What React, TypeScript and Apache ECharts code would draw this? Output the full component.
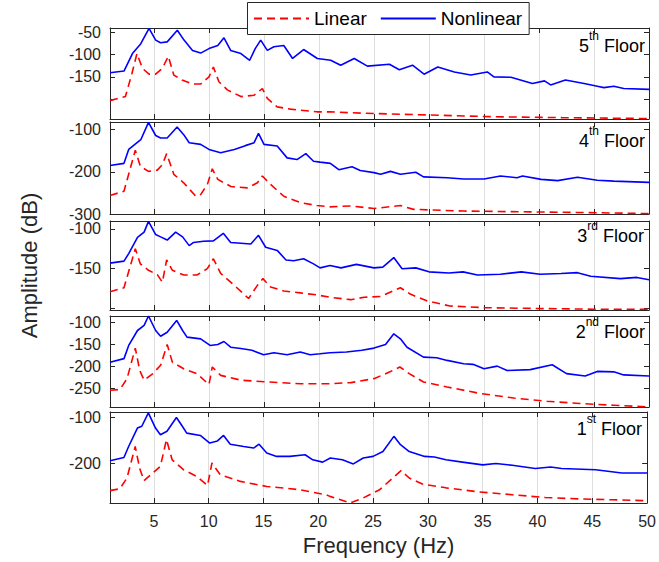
import React, { useEffect, useRef } from "react";
import * as echarts from "echarts";

// ---------- data (frequency Hz, amplitude dB) ----------
const xTicks = [5, 10, 15, 20, 25, 30, 35, 40, 45, 50];
const floorNumbers = ["5", "4", "3", "2", "1"];
const floorSuffixes = ["th", "th", "rd", "nd", "st"];
const seriesNames = ["Linear", "Nonlinear"];

const yMins = [-244, -300, -202, -293, -287];
const yMaxs = [-41, -82, -90, -86, -89];
const yTickValues = [
  [-50, -100, -150, -200],
  [-100, -200, -300],
  [-100, -150, -200],
  [-100, -150, -200, -250],
  [-100, -200],
];
const yLabelValues = [
  [-50, -100, -150],
  [-100, -200, -300],
  [-100, -150],
  [-100, -150, -200, -250],
  [-100, -200],
];

const nonlinear5 = [
  [1.0, -141], [2.27, -137], [3.04, -98], [3.8, -76], [4.55, -42], [5.15, -68], [5.6, -74], [6.2, -72],
  [7.12, -46], [7.73, -68], [8.5, -91], [9.24, -97], [10.0, -87], [10.8, -80], [11.36, -63], [11.97, -91],
  [12.9, -98], [13.7, -113], [14.2, -87], [14.7, -68], [15.3, -91], [15.9, -83], [16.8, -80], [17.6, -109],
  [18.6, -89], [19.85, -109], [21.06, -113], [21.97, -124], [23.2, -109], [24.4, -126], [26.4, -122],
  [27.3, -134], [28.5, -124], [29.55, -144], [30.8, -128], [32.3, -139], [33.8, -146], [35.3, -139],
  [35.9, -150], [37.45, -151], [39.4, -165], [40.5, -159], [41.06, -168], [42.4, -157], [44.1, -165],
  [45.3, -171], [45.9, -174], [46.8, -171], [47.7, -176], [50, -178],
];
const linear5 = [
  [1.0, -203], [2.4, -194], [3.0, -142], [3.45, -98], [3.95, -131], [4.55, -144], [5.15, -144], [5.76, -131],
  [6.3, -104], [6.8, -146], [7.56, -157], [8.47, -166], [9.24, -166], [10.0, -150], [10.4, -128], [10.9, -161],
  [11.67, -179], [12.9, -194], [14.1, -191], [14.85, -176], [15.3, -198], [16.2, -217], [17.4, -222],
  [19.8, -228], [21, -228], [23.9, -231], [29.96, -235], [36, -239], [42.1, -241], [50, -243],
];

const nonlinear4 = [
  [1.0, -185], [2.27, -180], [2.7, -147], [3.8, -124], [4.5, -83], [5.15, -114], [5.6, -120], [6.2, -120],
  [7.1, -94], [7.7, -112], [8.2, -131], [9.24, -135], [10.0, -147], [11.06, -155], [12.3, -147], [13.3, -138],
  [14.1, -131], [14.5, -109], [15.0, -135], [16.2, -139], [17.1, -167], [18.0, -171], [18.8, -157],
  [19.5, -175], [20.1, -177], [21.03, -180], [21.8, -195], [23.0, -188], [23.75, -197], [25.0, -202],
  [25.6, -206], [26.5, -199], [27.4, -206], [28.8, -201], [29.5, -212], [31.65, -214], [33.15, -217],
  [35.0, -217], [36.5, -210], [38.0, -214], [38.5, -210], [40.2, -218], [41.7, -221], [43.5, -213],
  [45.3, -220], [46.8, -222], [50, -225],
];
const linear4 = [
  [1.0, -256], [2.27, -246], [3.3, -149], [3.76, -187], [4.5, -199], [5.3, -196], [5.76, -183], [6.15, -157],
  [6.8, -206], [7.7, -226], [8.8, -258], [9.24, -254], [9.85, -230], [10.3, -193], [10.8, -218], [12.0, -235],
  [13.5, -238], [14.4, -226], [14.85, -210], [15.6, -230], [16.8, -258], [18.3, -273], [19.8, -280],
  [21, -283], [22.9, -281], [25, -287], [27.4, -280], [28.6, -289], [33.15, -293], [39.2, -295],
  [45.3, -297], [50, -299],
];

const nonlinear3 = [
  [1.0, -143], [2.27, -140.5], [2.7, -131], [3.5, -110.5], [4.1, -104], [4.5, -90.5], [5.15, -107],
  [5.6, -110], [6.2, -114], [6.97, -104], [7.6, -110], [8.2, -121], [8.6, -117], [9.5, -115.5], [10.4, -115],
  [11.3, -105.5], [11.97, -117], [12.9, -118], [13.8, -119], [14.5, -108], [15.15, -123], [16.2, -127],
  [17.0, -139], [17.7, -140], [18.6, -137.5], [19.5, -144], [20.1, -149], [21, -146], [22, -149],
  [23.4, -144.6], [25, -149], [25.8, -148], [26.8, -136], [27.55, -150], [28.8, -149], [30, -154],
  [31.8, -155.5], [33.1, -154], [34.4, -158], [36.5, -157], [38.4, -154], [40.1, -157], [42, -156],
  [43.5, -155], [44.7, -159.6], [47.4, -162.5], [48.9, -161], [50, -164],
];
const linear3 = [
  [1.0, -179], [2.27, -174], [3.3, -125], [3.76, -144], [4.5, -152], [5.3, -157.5], [5.76, -167],
  [6.15, -139], [6.67, -152], [7.7, -158], [8.9, -158], [9.85, -150], [10.4, -137.5], [11.06, -156],
  [12.3, -171], [13.6, -187.5], [14.4, -171], [14.9, -162.5], [15.6, -173], [16.8, -178], [18.3, -180.5],
  [19.8, -183], [21, -186], [22.9, -189], [24.1, -186], [25.6, -185], [27.4, -174], [28.3, -182],
  [29.8, -190.5], [31.9, -197], [35, -199], [39.2, -200], [45, -201], [50, -201],
];

const nonlinear2 = [
  [1.0, -191], [2.27, -183], [2.7, -153], [3.5, -119], [4.1, -107.5], [4.5, -86], [5.15, -119], [5.6, -132],
  [6.2, -123], [7.06, -96], [7.6, -119], [8.0, -134], [9.24, -138], [10.1, -153], [10.8, -151],
  [11.36, -144], [11.97, -157], [12.9, -160], [13.9, -164], [14.96, -174], [15.9, -169.5], [17.1, -174],
  [18.3, -168], [19.2, -174], [20.1, -172], [21, -169.5], [22.5, -168], [23.9, -164], [25, -159],
  [26.05, -151], [26.8, -126.5], [27.4, -138], [28, -157], [29.5, -179.5], [30.7, -181], [31.65, -187],
  [33.15, -194.5], [34, -196], [35, -206], [36.2, -200], [37.1, -210], [39.2, -208], [41.2, -197],
  [42.5, -217], [44.2, -222.5], [45.3, -212], [46.8, -213], [47.7, -220], [50, -222.5],
];
const linear2 = [
  [1.0, -255], [1.9, -253], [2.55, -228.5], [3.3, -159], [3.7, -209.6], [4.1, -232], [4.9, -217],
  [5.6, -198], [6.2, -151], [6.67, -191], [7.7, -206], [8.9, -217], [10.0, -242], [10.3, -202],
  [11.06, -221], [12.9, -232], [15.3, -236], [18.3, -240], [21, -240], [22.9, -237.6], [25, -228.5],
  [26.4, -213.5], [27.35, -202], [28.2, -217], [29.5, -236], [31.65, -247.5], [34.7, -262.5],
  [37.7, -272.5], [40.7, -280], [43.7, -285], [46.8, -289], [50, -293],
];

const nonlinear1 = [
  [1.0, -195], [2.27, -188], [2.7, -164], [3.5, -124], [3.9, -120], [4.5, -91], [5.15, -124], [5.6, -138.5],
  [6.2, -131], [7.06, -101], [7.6, -120], [8.0, -135], [9.24, -140], [10.1, -156.5], [10.8, -152],
  [11.36, -140], [11.97, -159], [13.2, -164], [14.1, -167.5], [14.6, -159], [15.3, -178], [16.2, -185.6],
  [17.4, -185.6], [18.8, -182], [19.5, -193], [20.4, -198], [21.1, -189], [22.2, -193], [23.2, -202],
  [24.1, -189], [25, -185.6], [25.9, -175], [26.9, -142], [27.5, -160], [28.3, -175], [29.7, -185.6],
  [30.6, -187], [31.65, -193], [33.15, -198], [35, -204], [36.2, -201], [37.7, -205], [39.8, -212],
  [41.2, -208.5], [42.2, -212], [45.3, -214.6], [47.7, -221.7], [50, -221.7],
];
const linear1 = [
  [1.0, -260], [1.9, -256], [2.55, -232.6], [3.3, -164], [3.7, -211], [4.1, -238.5], [4.9, -221.7],
  [5.6, -207], [6.15, -149], [6.67, -193], [7.7, -214.6], [8.9, -229], [9.9, -248.7], [10.3, -200],
  [11.06, -225.4], [12.9, -240], [15.3, -251], [18.3, -258], [20.7, -269], [21.06, -272.6], [22.9, -287],
  [24.1, -276], [25.6, -258], [27.55, -216.7], [28.3, -232.6], [29.5, -245.7], [31.65, -254], [34.7, -263],
  [37.7, -269], [40.7, -275], [43.7, -278], [46.8, -280], [50, -282],
];

const linearData = [linear5, linear4, linear3, linear2, linear1];
const nonlinearData = [nonlinear5, nonlinear4, nonlinear3, nonlinear2, nonlinear1];

// ---------- layout ----------
const FONT = "'Liberation Sans', Arial, Helvetica, sans-serif";
const TXT = "#262626";
const gridTops = [28, 122, 221, 316, 412];
const gridHeights = [91, 92, 89, 91, 91];
const labelTops = [30.2, 125.2, 220.2, 315.9, 413.2];
const labelRights = [645, 645, 644, 645, 642];

function buildOption() {
  const grid: any[] = [];
  const xAxis: any[] = [];
  const yAxis: any[] = [];
  const series: any[] = [];
  const graphic: any[] = [];

  for (let i = 0; i < 5; i++) {
    grid.push({ left: 110, top: gridTops[i], width: 539, height: gridHeights[i] });
    const last = i === 4;
    xAxis.push({
      type: "value",
      gridIndex: i,
      min: 1,
      max: 50,
      position: "bottom",
      axisLine: { show: true, onZero: false, lineStyle: { color: TXT, width: 1 } },
      axisTick: { show: true, inside: true, length: 5, customValues: xTicks, lineStyle: { color: TXT } },
      axisLabel: {
        show: last,
        customValues: xTicks,
        margin: 10,
        color: TXT,
        fontSize: 16,
        fontFamily: FONT,
      },
      splitLine: { show: true, lineStyle: { color: "#dedede", width: 1 } },
      name: last ? "Frequency (Hz)" : "",
      nameLocation: "middle",
      nameGap: 31,
      nameTextStyle: { color: TXT, fontSize: 22, fontFamily: FONT },
    });
    xAxis.push({
      type: "value",
      gridIndex: i,
      min: 1,
      max: 50,
      position: "top",
      axisLine: { show: true, onZero: false, lineStyle: { color: TXT, width: 1 } },
      axisTick: { show: true, inside: true, length: 5, customValues: xTicks, lineStyle: { color: TXT } },
      axisLabel: { show: false },
      splitLine: { show: false },
    });
    yAxis.push({
      type: "value",
      gridIndex: i,
      min: yMins[i],
      max: yMaxs[i],
      position: "left",
      axisLine: { show: true, onZero: false, lineStyle: { color: TXT, width: 1 } },
      axisTick: { show: true, inside: true, length: 5, customValues: yTickValues[i], lineStyle: { color: TXT } },
      axisLabel: {
        show: true,
        customValues: yLabelValues[i],
        margin: 9,
        color: TXT,
        fontSize: 16,
        lineHeight: 12,
        fontFamily: FONT,
      },
      splitLine: { show: false },
      name: i === 2 ? "Amplitude (dB)" : "",
      nameLocation: "middle",
      nameGap: 70,
      nameTextStyle: { color: TXT, fontSize: 22, fontFamily: FONT },
    });
    yAxis.push({
      type: "value",
      gridIndex: i,
      min: yMins[i],
      max: yMaxs[i],
      position: "right",
      axisLine: { show: true, onZero: false, lineStyle: { color: TXT, width: 1 } },
      axisTick: { show: true, inside: true, length: 5, customValues: yTickValues[i], lineStyle: { color: TXT } },
      axisLabel: { show: false },
      splitLine: { show: false },
    });

    series.push({
      name: seriesNames[0],
      type: "line",
      xAxisIndex: 2 * i,
      yAxisIndex: 2 * i,
      data: linearData[i],
      symbol: "none",
      clip: true,
      lineStyle: { color: "#ff0000", width: 1.6, type: [8, 5] },
      itemStyle: { color: "#ff0000" },
      z: 3,
    });
    series.push({
      name: seriesNames[1],
      type: "line",
      xAxisIndex: 2 * i,
      yAxisIndex: 2 * i,
      data: nonlinearData[i],
      symbol: "none",
      clip: true,
      lineStyle: { color: "#0000ff", width: 1.6, type: "solid" },
      itemStyle: { color: "#0000ff" },
      z: 4,
    });

    graphic.push({
      type: "text",
      x: labelRights[i],
      y: labelTops[i],
      z: 10,
      style: {
        text: `{n|${floorNumbers[i]}}{s|${floorSuffixes[i]}}{n| Floor}`,
        align: "right",
        verticalAlign: "top",
        rich: {
          n: { fontSize: 18, fontFamily: FONT, fill: "#000", lineHeight: 25, verticalAlign: "bottom" },
          s: { fontSize: 12, fontFamily: FONT, fill: "#000", lineHeight: 12, verticalAlign: "top" },
        },
      },
    });
  }

  return {
    animation: false,
    backgroundColor: "#ffffff",
    grid,
    xAxis,
    yAxis,
    series,
    graphic,
    legend: {
      data: seriesNames,
      left: 247.5,
      top: 2.5,
      orient: "horizontal",
      padding: [6, 7, 6, 5.5],
      itemWidth: 55,
      itemHeight: 14,
      itemGap: 13,
      borderColor: TXT,
      borderWidth: 1,
      backgroundColor: "#ffffff",
      itemStyle: { opacity: 0, borderWidth: 0 },
      textStyle: { color: "#000", fontSize: 19, fontFamily: FONT, lineHeight: 20 },
      z: 20,
    },
  };
}

export default function App() {
  const ref = useRef<HTMLDivElement>(null);
  useEffect(() => {
    if (!ref.current) return;
    const chart = echarts.init(ref.current, undefined, { renderer: "svg" });
    chart.setOption(buildOption() as any);
    return () => chart.dispose();
  }, []);
  return (
    <div
      ref={ref}
      style={{ position: "fixed", left: 0, top: 0, width: 659, height: 562, background: "#fff" }}
    />
  );
}
